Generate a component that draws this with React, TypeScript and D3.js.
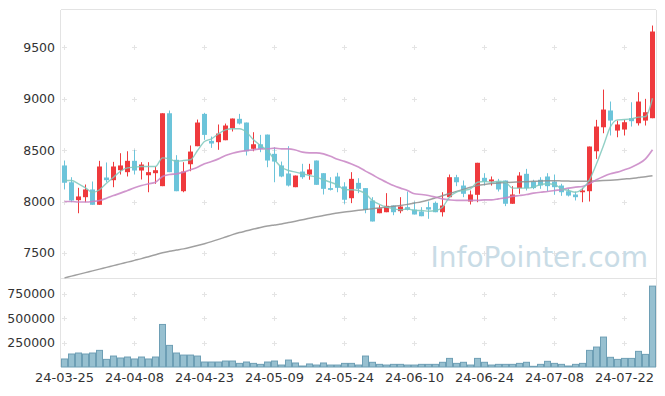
import React from 'react';
import * as d3 from 'd3';

const dates = [
  '24-03-25', '24-03-26', '24-03-27', '24-03-28', '24-03-29',
  '24-04-01', '24-04-02', '24-04-03', '24-04-04', '24-04-05',
  '24-04-08', '24-04-09', '24-04-11', '24-04-12', '24-04-15',
  '24-04-16', '24-04-17', '24-04-18', '24-04-19', '24-04-22',
  '24-04-23', '24-04-24', '24-04-25', '24-04-26', '24-04-29',
  '24-04-30', '24-05-02', '24-05-03', '24-05-07', '24-05-08',
  '24-05-09', '24-05-10', '24-05-13', '24-05-14', '24-05-16',
  '24-05-17', '24-05-20', '24-05-21', '24-05-22', '24-05-23',
  '24-05-24', '24-05-27', '24-05-28', '24-05-29', '24-05-30',
  '24-05-31', '24-06-03', '24-06-04', '24-06-05', '24-06-07',
  '24-06-10', '24-06-11', '24-06-12', '24-06-13', '24-06-14',
  '24-06-17', '24-06-18', '24-06-19', '24-06-20', '24-06-21',
  '24-06-24', '24-06-25', '24-06-26', '24-06-27', '24-06-28',
  '24-07-01', '24-07-02', '24-07-03', '24-07-04', '24-07-05',
  '24-07-08', '24-07-09', '24-07-10', '24-07-11', '24-07-12',
  '24-07-15', '24-07-16', '24-07-17', '24-07-18', '24-07-19',
  '24-07-22', '24-07-23', '24-07-24', '24-07-25', '24-07-26',
];

const opens = [
  8350, 8187, 8013, 8042, 8117, 7968, 8233, 8207, 8304, 8285,
  8395, 8301, 8255, 8275, 8149, 8857, 8405, 8100, 8362, 8537,
  8851, 8589, 8576, 8595, 8712, 8803, 8767, 8512, 8556, 8650,
  8463, 8350, 8272, 8139, 8291, 8262, 8398, 8275, 8130, 8243,
  8146, 8032, 8181, 8130, 8010, 7886, 7896, 7961, 7906, 7945,
  7922, 7903, 7945, 7987, 7896, 8042, 8236, 8155, 8000, 8065,
  8230, 8194, 8194, 8204, 7978, 8130, 8269, 8194, 8211, 8243,
  8194, 8155, 8100, 8068, 8090, 8100, 8488, 8721, 8884, 8689,
  8699, 8809, 8760, 8786, 8809,
];

const highs = [
  8398, 8236, 8133, 8165, 8194, 8395, 8379, 8385, 8469, 8488,
  8502, 8382, 8382, 8340, 8857, 8884, 8450, 8382, 8544, 8796,
  8861, 8631, 8748, 8757, 8806, 8851, 8767, 8673, 8647, 8650,
  8527, 8388, 8537, 8252, 8366, 8366, 8398, 8275, 8236, 8279,
  8187, 8285, 8226, 8130, 8042, 7964, 8081, 7961, 8042, 8097,
  8000, 7945, 8000, 8000, 8090, 8262, 8259, 8204, 8107, 8376,
  8275, 8243, 8220, 8204, 8149, 8285, 8317, 8211, 8236, 8275,
  8262, 8172, 8123, 8097, 8133, 8534, 8793, 9087, 8971, 8786,
  8793, 8964, 9061, 8997, 9709,
];

const lows = [
  8117, 7993, 7886, 7993, 7968, 7968, 8187, 8139, 8262, 8243,
  8262, 8214, 8090, 8172, 8149, 8285, 8100, 8090, 8294, 8537,
  8599, 8521, 8502, 8595, 8680, 8748, 8447, 8488, 8479, 8333,
  8187, 8236, 8146, 8139, 8220, 8211, 8162, 8068, 8107, 8090,
  7978, 7984, 8081, 7886, 7806, 7886, 7896, 7867, 7886, 7913,
  7874, 7857, 7832, 7896, 7854, 8042, 8149, 8042, 7971, 7993,
  8155, 8155, 8097, 7955, 7978, 8075, 8107, 8120, 8123, 8100,
  8065, 8055, 8049, 8010, 7993, 8000, 8414, 8663, 8641, 8624,
  8641, 8728, 8738, 8738, 8809,
];

const closes = [
  8182, 8010, 8049, 8117, 7968, 8340, 8207, 8340, 8350, 8395,
  8301, 8359, 8285, 8304, 8857, 8285, 8100, 8291, 8485, 8767,
  8647, 8563, 8660, 8738, 8806, 8757, 8488, 8556, 8512, 8398,
  8388, 8243, 8155, 8252, 8236, 8311, 8162, 8123, 8113, 8133,
  8017, 8220, 8123, 7919, 7806, 7935, 7958, 7896, 7951, 7919,
  7874, 7857, 7922, 7896, 7961, 8236, 8187, 8075, 8068, 8376,
  8194, 8214, 8117, 7978, 8068, 8252, 8130, 8130, 8155, 8149,
  8139, 8090, 8058, 8042, 8107, 8534, 8728, 8893, 8786, 8748,
  8770, 8780, 8971, 8867, 9651,
];

const volumes = [
  82000, 133000, 143000, 133000, 143000, 170000, 78000, 112000, 92000, 102000,
  82000, 102000, 82000, 102000, 435000, 221000, 143000, 122000, 122000, 112000,
  51000, 51000, 51000, 61000, 61000, 37000, 51000, 37000, 27000, 51000,
  61000, 20000, 71000, 41000, 10000, 31000, 20000, 41000, 20000, 20000,
  37000, 37000, 20000, 112000, 48000, 27000, 20000, 27000, 27000, 20000,
  20000, 27000, 27000, 27000, 48000, 88000, 37000, 48000, 20000, 88000,
  48000, 20000, 27000, 27000, 27000, 37000, 48000, 7000, 27000, 58000,
  37000, 27000, 10000, 27000, 37000, 170000, 204000, 306000, 99000, 78000,
  88000, 88000, 160000, 129000, 827000,
];

const ma5 = [
  8204, 8204, 8172, 8133, 8087, 8114, 8178, 8236, 8294, 8327,
  8333, 8340, 8340, 8340, 8424, 8414, 8390, 8398, 8405, 8495,
  8583, 8609, 8657, 8696, 8706, 8706, 8673, 8599, 8544, 8495,
  8405, 8333, 8301, 8285, 8269, 8252, 8236, 8211, 8187, 8162,
  8114, 8114, 8107, 8075, 8010, 7971, 7945, 7929, 7919, 7929,
  7913, 7913, 7906, 7913, 7945, 8042, 8090, 8107, 8123, 8187,
  8194, 8187, 8197, 8187, 8130, 8130, 8130, 8139, 8165, 8172,
  8165, 8123, 8107, 8090, 8123, 8211, 8366, 8544, 8728, 8793,
  8796, 8803, 8819, 8825, 9003,
];

const ma20 = [
  8000, 8000, 7995, 7995, 8000, 8010, 8032, 8058, 8081, 8107,
  8133, 8155, 8172, 8187, 8243, 8262, 8269, 8285, 8308, 8333,
  8366, 8388, 8414, 8447, 8469, 8485, 8495, 8502, 8512, 8512,
  8518, 8512, 8512, 8500, 8479, 8473, 8473, 8463, 8440, 8410,
  8390, 8365, 8335, 8295, 8259, 8220, 8187, 8155, 8130, 8107,
  8075, 8068, 8058, 8042, 8026, 8016, 8010, 8010, 8010, 8010,
  8016, 8016, 8026, 8036, 8049, 8058, 8068, 8081, 8090, 8097,
  8107, 8114, 8130, 8139, 8146, 8172, 8211, 8243, 8269, 8285,
  8308, 8333, 8366, 8414, 8502,
];

const ma60 = [
  7258, 7275, 7292, 7309, 7326, 7343, 7360, 7377, 7394, 7411,
  7428, 7445, 7464, 7483, 7502, 7516, 7528, 7540, 7555, 7572,
  7590, 7610, 7632, 7655, 7678, 7698, 7715, 7732, 7748, 7762,
  7772, 7782, 7795, 7808, 7822, 7838, 7852, 7864, 7876, 7888,
  7898, 7906, 7914, 7922, 7930, 7938, 7946, 7954, 7962, 7972,
  7985, 7998, 8015, 8035, 8056, 8078, 8098, 8118, 8138, 8155,
  8166, 8174, 8180, 8184, 8187, 8190, 8193, 8196, 8200, 8202,
  8202, 8200, 8198, 8196, 8196, 8198, 8200, 8203, 8207, 8212,
  8218, 8224, 8232, 8240, 8250,
];

const priceTicks = [7500, 8000, 8500, 9000, 9500];
const volumeTicks = [250000, 500000, 750000];

const W = 665;
const H = 396;
const left = 61;
const right = 656;
const top = 10;
const split = 278;
const bottom = 367;

const UP = '#ef3a3d';
const DOWN = '#6cc4da';
const FONT = 'DejaVu Sans, sans-serif';

export default function App() {
  const idx = dates.map((_, i) => i);
  const x = d3.scaleBand<number>().domain(idx).range([left, right]).padding(0);
  const cx = (i: number) => (x(i) as number) + x.bandwidth() / 2;
  const y = d3.scaleLinear().domain([7257, 9860]).range([split, top]);
  const yv = d3.scaleLinear().domain([0, 910000]).range([bottom, split]);

  const xTicks = idx.filter((i) => i % 10 === 0);
  const bodyW = 5;

  const line = (vals: number[]) =>
    d3.line<number>().x((_, i) => cx(i)).y((d) => y(d)).curve(d3.curveMonotoneX)(vals) || '';

  const cross = (px: number, py: number, key: string) => (
    <g key={key} stroke="#e4e4e4" strokeWidth={1}>
      <line x1={px - 2.5} x2={px + 2.5} y1={py} y2={py} />
      <line x1={px} x2={px} y1={py - 2.5} y2={py + 2.5} />
    </g>
  );

  return (
    <div style={{ position: 'absolute', left: 0, top: 0 }}>
      <svg width={W} height={H} style={{ display: 'block', background: '#fff' }}>
        {/* grid crosses */}
        {xTicks.map((i) =>
          priceTicks.map((t) => cross(Math.round(cx(i)) - 0.5, Math.round(y(t)) + 0.5, `p${i}-${t}`))
        )}
        {xTicks.map((i) =>
          volumeTicks.map((t) => cross(Math.round(cx(i)) - 0.5, Math.round(yv(t)) + 0.5, `v${i}-${t}`))
        )}

        {/* frame */}
        <g stroke="#e3e3e3" strokeWidth={1} fill="none">
          <line x1={left - 0.5} x2={left - 0.5} y1={top} y2={bottom} />
          <line x1={right + 0.5} x2={right + 0.5} y1={top} y2={bottom} />
          <line x1={left} x2={right} y1={top - 0.5} y2={top - 0.5} />
          <line x1={left} x2={right} y1={split + 0.5} y2={split + 0.5} />
        </g>

        {/* watermark */}
        <text x={648} y={267} textAnchor="end" fontFamily={FONT} fontSize={28} fill="#c9dce6">
          InfoPointer.com
        </text>

        {/* volume */}
        {volumes.map((v, i) => (
          <rect
            key={`vol${i}`}
            x={(x(i) as number) + 0.5}
            y={yv(v)}
            width={x.bandwidth() - 1}
            height={bottom - yv(v)}
            fill="#97c0d0"
            stroke="#6e9fb5"
            strokeWidth={1}
          />
        ))}

        {/* candles */}
        {closes.map((c, i) => {
          const o = opens[i];
          const col = c >= o ? UP : DOWN;
          const yt = y(Math.max(o, c));
          const yb = y(Math.min(o, c));
          return (
            <g key={`c${i}`}>
              <line x1={cx(i)} x2={cx(i)} y1={y(highs[i])} y2={y(lows[i])} stroke={col} strokeWidth={1} />
              <rect x={cx(i) - bodyW / 2} y={yt} width={bodyW} height={Math.max(1, yb - yt)} fill={col} />
            </g>
          );
        })}

        {/* moving averages */}
        <path d={line(ma60)} fill="none" stroke="#8f8f8f" strokeWidth={1.5} opacity={0.85} />
        <path d={line(ma20)} fill="none" stroke="#c884c4" strokeWidth={1.7} opacity={0.85} />
        <path d={line(ma5)} fill="none" stroke="#7fc8bc" strokeWidth={1.4} opacity={0.85} />

        {/* y labels */}
        <g fontFamily={FONT} fontSize={12.5} fill="#333" textAnchor="end">
          {priceTicks.map((t) => (
            <text key={`pt${t}`} x={55} y={y(t) + 4.5}>{t}</text>
          ))}
          {volumeTicks.map((t) => (
            <text key={`vt${t}`} x={55} y={yv(t) + 4.5}>{t}</text>
          ))}
        </g>

        {/* x labels */}
        <g fontFamily={FONT} fontSize={13} fill="#333" textAnchor="middle">
          {xTicks.map((i) => (
            <text key={`xt${i}`} x={cx(i)} y={382}>{dates[i]}</text>
          ))}
        </g>
      </svg>
    </div>
  );
}
